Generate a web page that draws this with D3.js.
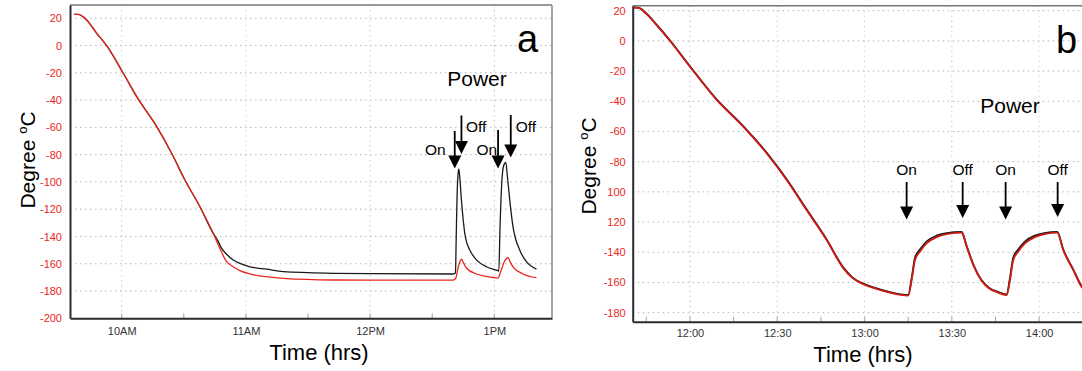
<!DOCTYPE html>
<html><head><meta charset="utf-8">
<script src="https://cdn.jsdelivr.net/npm/d3@7"></script>
<style>
html,body{margin:0;padding:0;background:#fff;}
svg text{font-family:"Liberation Sans",Arial,sans-serif;}
</style></head>
<body><svg id="chart" width="1082" height="371"></svg>
<script>
// ---------- DATA ----------
// Panel a: time in decimal hours, temperature in deg C
const aYTicks = [-200,-180,-160,-140,-120,-100,-80,-60,-40,-20,0,20];
const aYTickLabels = ["-200","-180","-160","-140","-120","-100","-80","-60","-40","-20","0","20"];
const aXTicks = [10,11,12,13];
const aXTickLabels = ["10AM","11AM","12PM","1PM"];
const aMinorTicks = [10.5,11.5,12.5];
const aBlack = [
 [9.616,22.9],[9.649,22.9],[9.718,18.8],[9.799,9.0],[9.879,-0.1],[10.013,-20.3],[10.121,-37.5],
 [10.282,-59.5],[10.402,-79],[10.509,-98.6],[10.630,-118.2],[10.737,-137.7],[10.777,-143.5],
 [10.800,-148],[10.845,-153.0],[10.898,-157.3],[10.952,-159.7],[11.032,-162.2],[11.167,-164.0],[11.300,-165.8],
 [11.702,-167.0],[12.000,-167.3],[12.668,-167.5],[12.687,-166.8],[12.693,-140],[12.700,-110],
 [12.707,-95],[12.714,-90.5],[12.722,-97],[12.735,-113.3],[12.762,-137.7],[12.776,-144],
 [12.802,-149.9],[12.856,-157.2],[12.936,-162.2],[13.030,-165.1],[13.036,-165.3],[13.045,-135],
 [13.060,-100],[13.075,-88],[13.092,-85.6],[13.105,-96],[13.124,-113.3],[13.150,-132.8],
 [13.204,-149.9],[13.258,-158.5],[13.339,-163.9]
];
const aRed = [
 [9.616,22.9],[9.649,22.9],[9.718,18.8],[9.799,9.0],[9.879,-0.1],[10.013,-20.3],[10.121,-37.5],
 [10.282,-59.5],[10.402,-79],[10.509,-98.6],[10.630,-118.2],[10.737,-137.7],[10.777,-146],
 [10.845,-158.5],[10.898,-162.2],[10.952,-165.0],[11.032,-167.5],[11.167,-169.5],[11.300,-170.7],
 [11.702,-171.9],[12.000,-172.0],[12.668,-172.0],[12.690,-170.5],[12.710,-162],[12.735,-156.7],
 [12.750,-159],[12.776,-163.3],[12.856,-167.5],[12.936,-169.3],[13.030,-170.4],[13.050,-166],
 [13.080,-158.5],[13.110,-155.6],[13.130,-159],[13.150,-162.2],[13.231,-167.5],[13.339,-170.2]
];
const aEvents = [["On",12.681],["Off",12.735],["On",13.030],["Off",13.132]];

// Panel b
const bYTicks = [-180,-160,-140,-120,-100,-80,-60,-40,-20,0,20];
const bYTickLabels = ["-180","-160","-140","120","100","-80","-60","-40","-20","0","20"];
const bXTicks = [12,12.5,13,13.5,14];
const bXTickLabels = ["12:00","12:30","13:00","13:30","14:00"];
const bMinorTicks = [11.75,12.25,12.75,13.25,13.75];
const bRed = [
 [11.675,22.0],[11.704,21.8],[11.753,17.5],[11.810,10.3],[11.885,0.1],[12.000,-17.1],[12.153,-39.1],
 [12.305,-56.8],[12.439,-74.4],[12.554,-92.1],[12.668,-112],[12.783,-131.9],[12.878,-150.5],
 [12.930,-157.0],[13.000,-161.5],[13.060,-164.0],[13.145,-166.8],[13.250,-168.7],[13.270,-158.3],
 [13.289,-145.1],[13.317,-139.6],[13.356,-134.0],[13.413,-130.0],[13.470,-128.0],[13.556,-127.0],
 [13.585,-136.3],[13.623,-148.5],[13.671,-159.0],[13.714,-164.0],[13.760,-166.5],[13.814,-168.3],
 [13.833,-158.3],[13.852,-145.1],[13.880,-139.6],[13.920,-134.0],[13.975,-130.0],[14.030,-128.0],
 [14.104,-127.0],[14.138,-138.5],[14.195,-151.7],[14.243,-162.8],[14.290,-168.0]
];
const bBlack = [
 [11.675,22.2],[11.704,22.0],[11.753,17.8],[11.810,10.6],[11.885,0.4],[12.000,-16.8],[12.153,-38.8],
 [12.305,-56.5],[12.439,-74.0],[12.554,-91.7],[12.668,-111.6],[12.783,-131.5],[12.878,-150.0],
 [12.930,-156.6],[13.000,-161.1],[13.060,-163.6],[13.145,-166.4],[13.250,-168.3],[13.270,-157.0],
 [13.289,-143.5],[13.317,-138.2],[13.356,-132.8],[13.413,-129.0],[13.470,-127.3],[13.556,-126.6],
 [13.585,-135.9],[13.623,-148.0],[13.671,-158.6],[13.714,-163.6],[13.760,-166.1],[13.814,-168.0],
 [13.833,-157.0],[13.852,-143.5],[13.880,-138.2],[13.920,-132.8],[13.975,-129.0],[14.030,-127.3],
 [14.104,-126.6],[14.138,-138.1],[14.195,-151.3],[14.243,-162.4],[14.290,-167.6]
];
const bEvents = [["On",13.241],["Off",13.562],["On",13.808],["Off",14.106]];

// ---------- DRAW ----------
const svg = d3.select("#chart");
const RED = "#e8261e";
const font = '"Liberation Sans",Arial,sans-serif';

function panel(cfg){
  const x = d3.scaleLinear().domain(cfg.xDom).range([cfg.L, cfg.R]);
  const y = d3.scaleLinear().domain(cfg.yDom).range([cfg.B, cfg.T]);
  const g = svg.append("g");
  // grid
  g.selectAll(".hg").data(cfg.yTicks.filter(v=>v>cfg.yDom[0]+1)).enter().append("line")
    .attr("x1",cfg.L).attr("x2",cfg.R).attr("y1",d=>y(d)).attr("y2",d=>y(d))
    .attr("stroke","#b5b5b5").attr("stroke-width",1).attr("stroke-dasharray","1.5,3.5");
  g.selectAll(".vg").data(cfg.xTicks).enter().append("line")
    .attr("x1",d=>x(d)).attr("x2",d=>x(d)).attr("y1",cfg.T).attr("y2",cfg.B)
    .attr("stroke",(d,i)=>cfg.vgColors[i%cfg.vgColors.length]).attr("stroke-width",1).attr("stroke-dasharray","1.5,3.5");
  // inner ticks
  g.selectAll(".tk").data(cfg.xTicks.concat(cfg.minor)).enter().append("line")
    .attr("x1",d=>x(d)).attr("x2",d=>x(d)).attr("y1",cfg.B).attr("y2",cfg.B-5)
    .attr("stroke","#b9a9c9").attr("stroke-width",1.2);
  // frame
  g.append("line").attr("x1",cfg.L).attr("x2",cfg.R).attr("y1",cfg.T).attr("y2",cfg.T).attr("stroke","#777").attr("stroke-width",1.5);
  if(cfg.rightBorder) g.append("line").attr("x1",cfg.R).attr("x2",cfg.R).attr("y1",cfg.T).attr("y2",cfg.B).attr("stroke","#888").attr("stroke-width",1.5);
  // axes
  const ya = d3.axisLeft(y).tickValues(cfg.yTicks).tickSize(0).tickPadding(cfg.yPad)
    .tickFormat((d,i)=>cfg.yLabels[i]);
  const yg = g.append("g").attr("transform",`translate(${cfg.L},0)`).call(ya);
  yg.select(".domain").attr("stroke","#2a2a3a").attr("stroke-width",2);
  yg.selectAll("text").attr("fill",RED).style("font-size","11px").style("font-family",font);
  const xa = d3.axisBottom(x).tickValues(cfg.xTicks).tickSize(0).tickPadding(cfg.xPad)
    .tickFormat((d,i)=>cfg.xLabels[i]);
  const xg = g.append("g").attr("transform",`translate(0,${cfg.B})`).call(xa);
  xg.select(".domain").attr("stroke","#2a2a2a").attr("stroke-width",2);
  xg.selectAll("text").attr("fill","#333").style("font-size","11px").style("font-family",font);
  // lines
  const line = d3.line().x(d=>x(d[0])).y(d=>y(d[1])).curve(d3.curveMonotoneX);
  const clipId = "clip"+cfg.id;
  svg.append("clipPath").attr("id",clipId).append("rect")
    .attr("x",cfg.L).attr("y",cfg.T).attr("width",cfg.R-cfg.L).attr("height",cfg.B-cfg.T);
  const lg = g.append("g").attr("clip-path",`url(#${clipId})`);
  lg.append("path").datum(cfg.black).attr("d",line).attr("fill","none").attr("stroke","#1a1a1a").attr("stroke-width",cfg.lw);
  lg.append("path").datum(cfg.red).attr("d",line).attr("fill","none").attr("stroke",cfg.redColor).attr("stroke-width",cfg.lw);
  // axis titles
  const yt = g.append("text").attr("transform",`translate(${cfg.ytX},${cfg.ytY}) rotate(-90)`)
    .attr("text-anchor","middle").style("font-size","21px").attr("fill","#000");
  yt.append("tspan").text("Degree ");
  yt.append("tspan").text("o").style("font-size","13px").attr("dy","-8");
  yt.append("tspan").text("C").attr("dy","8");
  g.append("text").attr("x",cfg.xtX).attr("y",cfg.xtY).attr("text-anchor","middle")
    .style("font-size","22px").attr("fill","#000").text("Time (hrs)");
  // letter + Power
  g.append("text").attr("x",cfg.letterX).attr("y",cfg.letterY).style("font-size","38px").attr("fill","#000").text(cfg.letter);
  g.append("text").attr("x",cfg.powerX).attr("y",cfg.powerY).attr("text-anchor","middle").style("font-size","21px").attr("fill","#000").text("Power");
  // arrows
  cfg.events.forEach((ev,i)=>{
    const ax = x(ev[1]);
    const a = cfg.arrow(i);
    g.append("line").attr("x1",ax).attr("x2",ax).attr("y1",a.top).attr("y2",a.tip-10).attr("stroke","#000").attr("stroke-width",1.8);
    g.append("path").attr("d",`M${ax-6.5},${a.tip-13}L${ax+6.5},${a.tip-13}L${ax},${a.tip}Z`).attr("fill","#000");
    g.append("text").attr("x",ax+a.dx).attr("y",a.ty).attr("text-anchor",a.anchor)
      .style("font-size","15.5px").attr("fill","#000").text(ev[0]);
  });
}

panel({
  id:"a", L:70, R:552, T:5, B:318.3, xDom:[9.584,13.464], yDom:[-200,29.75],
  yTicks:aYTicks, yLabels:aYTickLabels, xTicks:aXTicks, xLabels:aXTickLabels, minor:aMinorTicks,
  yPad:8, xPad:9, vgColors:["#b8d6d0","#cfe0bf","#b9dcb9","#c4c4c4"], rightBorder:true,
  black:aBlack, red:aRed, lw:1.3, redColor:RED,
  ytX:35, ytY:160, xtX:319, xtY:360, letter:"a", letterX:517, letterY:52, powerX:477, powerY:86,
  events:aEvents,
  arrow:(i)=>[
    {top:131,tip:168.5,dx:-9,anchor:"end",ty:155},
    {top:115.5,tip:154,dx:4.5,anchor:"start",ty:132},
    {top:130,tip:168.5,dx:-1,anchor:"end",ty:155},
    {top:115,tip:157.5,dx:5,anchor:"start",ty:132}][i]
});

panel({
  id:"b", L:632.7, R:1095, T:5.7, B:321.7, xDom:[11.672,14.32], yDom:[-186,23.3],
  yTicks:bYTicks, yLabels:bYTickLabels, xTicks:bXTicks, xLabels:bXTickLabels, minor:bMinorTicks,
  yPad:7, xPad:8, vgColors:["#c9b8d8","#b8d6d6","#cfe0bf","#c8c0dc","#cfe0bf"], rightBorder:false,
  black:bBlack, red:bRed, lw:1.8, redColor:"#d11a14",
  ytX:596, ytY:166, xtX:863, xtY:362, letter:"b", letterX:1056, letterY:53, powerX:1010, powerY:113,
  events:bEvents,
  arrow:(i)=>({top:182,tip:[219.5,218,219.5,217][i],dx:0,anchor:"middle",ty:175})
});
</script></body></html>
